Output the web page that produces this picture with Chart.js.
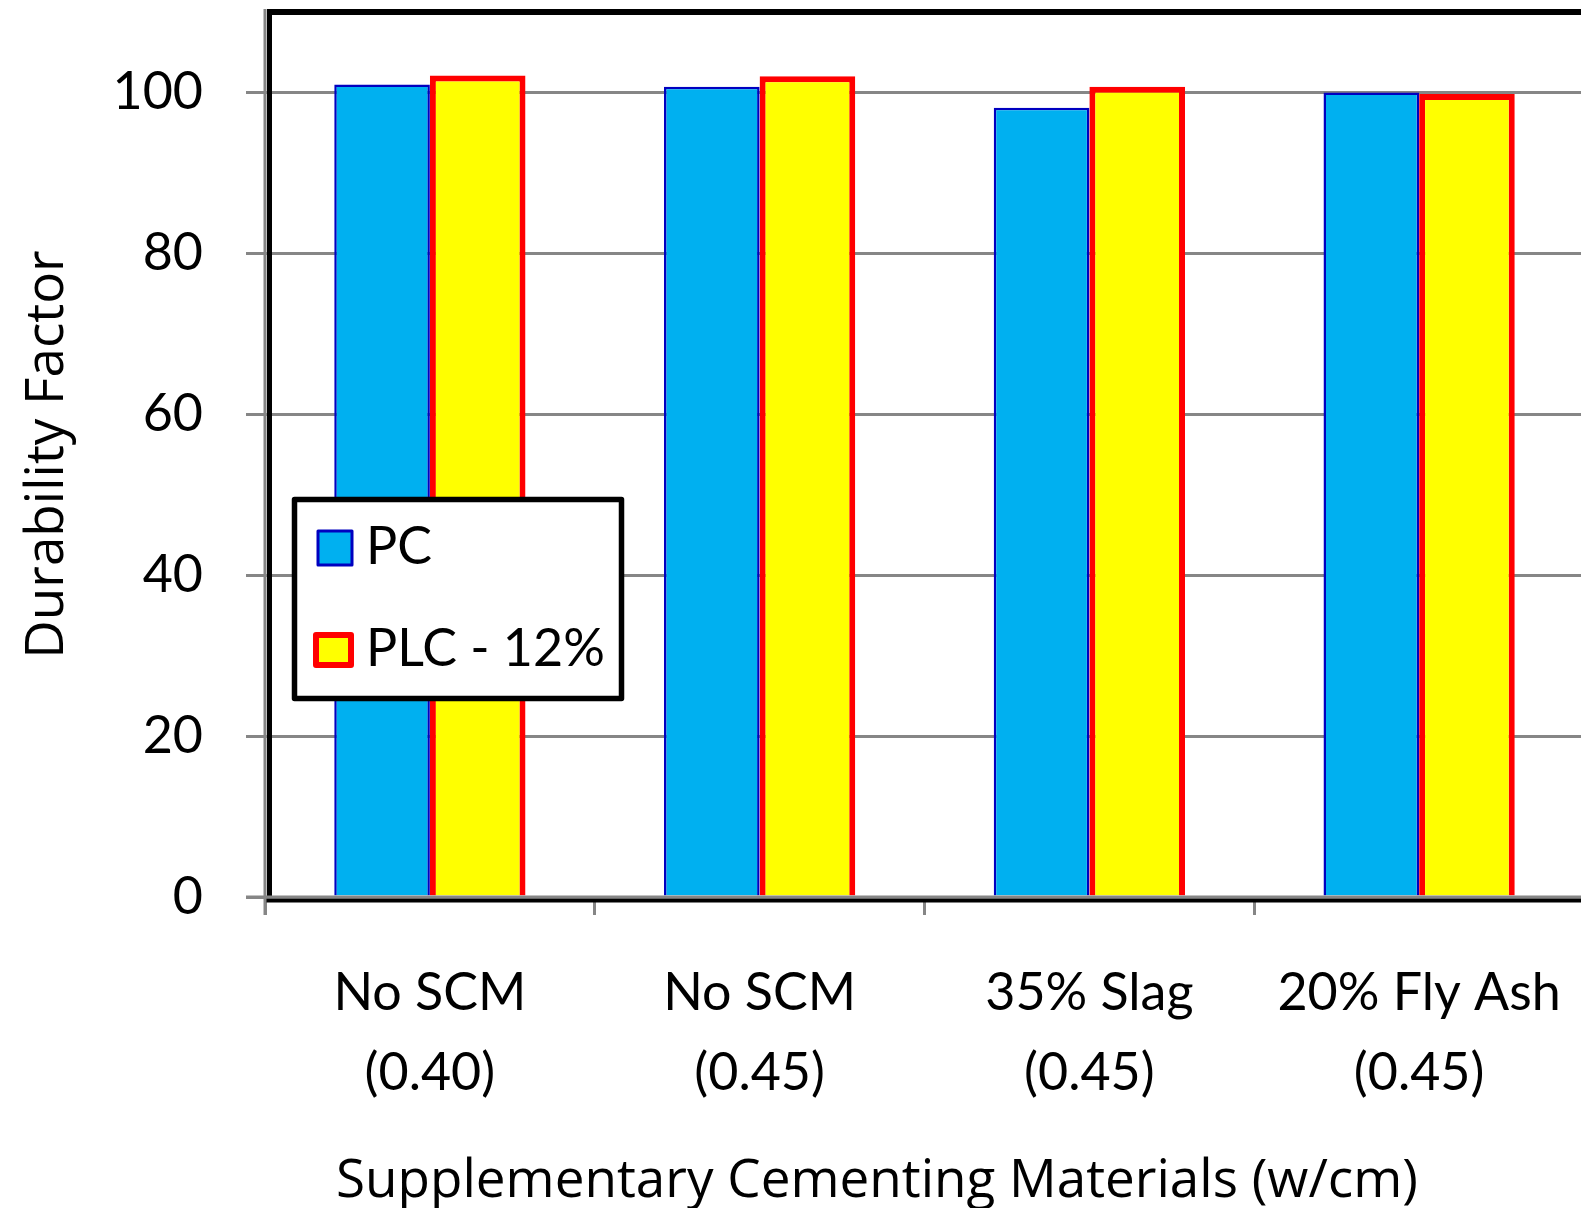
<!DOCTYPE html>
<html lang="en">

<head>
    <meta charset="UTF-8">
    <title>Durability Factor</title>
    <script src="https://cdn.jsdelivr.net/npm/chart.js@4.4.1/dist/chart.umd.min.js"></script>
    <style>
        html, body { margin: 0; padding: 0; overflow: hidden; background: #fff; }
    </style>
</head>

<body>
    <canvas id="bar" width="1590" height="1208"></canvas>

<script>
    // data
    const categories = [['No SCM', '(0.40)'], ['No SCM', '(0.45)'], ['35% Slag', '(0.45)'], ['20% Fly Ash', '(0.45)']];
    const pcValues = [101.0, 100.7, 98.1, 100.0];
    const plcValues = [102.1, 102.0, 100.7, 99.8];
    const yTicks = [0, 20, 40, 60, 80, 100];
    const seriesNames = ['PC', 'PLC - 12%'];
    const xTitle = 'Supplementary Cementing Materials (w/cm)';

    const FONT = 'Lato, "Open Sans", sans-serif';
    const TITLE_FONT = '"Open Sans", Lato, sans-serif';
    const GRAY = '#868686';

    // black plot frame, gray axes on top of the bars, the boxed legend and the x title
    const framePlugin = {
        id: 'frame',
        afterDatasetsDraw(chart) {
            const a = chart.chartArea;
            const c = chart.ctx;
            c.save();
            c.strokeStyle = '#000';
            c.lineWidth = 6;
            c.beginPath();
            c.moveTo(a.left + 2, a.top);
            c.lineTo(a.right, a.top);
            c.stroke();
            c.lineWidth = 5;
            c.beginPath();
            c.moveTo(a.left + 4.5, a.top - 3);
            c.lineTo(a.left + 4.5, a.bottom);
            c.stroke();
            c.lineWidth = 4;
            c.beginPath();
            c.moveTo(a.left, a.bottom + 3.5);
            c.lineTo(a.right, a.bottom + 3.5);
            c.stroke();
            // gray axis lines
            c.strokeStyle = GRAY;
            c.lineWidth = 3;
            c.beginPath();
            c.moveTo(a.left - 19, a.bottom);
            c.lineTo(a.right, a.bottom);
            c.moveTo(a.left, a.top - 3);
            c.lineTo(a.left, a.bottom + 18);
            c.stroke();
            c.restore();
        },
        afterDraw(chart) {
            const c = chart.ctx;
            const ds = chart.data.datasets;
            c.save();
            c.fillStyle = '#fff';
            c.fillRect(294.5, 499.5, 327, 199);
            c.strokeStyle = '#000';
            c.lineWidth = 5.5;
            c.lineJoin = 'round';
            c.strokeRect(294.5, 499.5, 327, 199);
            // swatches
            c.fillStyle = ds[0].backgroundColor;
            c.fillRect(318, 531, 34, 34);
            c.strokeStyle = ds[0].borderColor;
            c.lineWidth = 3;
            c.strokeRect(318, 531, 34, 34);
            c.fillStyle = ds[1].backgroundColor;
            c.fillRect(316, 635, 35, 30);
            c.strokeStyle = ds[1].borderColor;
            c.lineWidth = 6;
            c.strokeRect(316, 635, 35, 30);
            // labels
            c.fillStyle = '#000';
            c.font = '52px ' + FONT;
            c.textBaseline = 'alphabetic';
            c.textAlign = 'left';
            c.fillText(ds[0].label, 366, 564);
            c.fillText(ds[1].label, 366, 666);
            // x axis title (sits left of the plot centre in the original)
            c.font = '53px ' + TITLE_FONT;
            c.textAlign = 'center';
            c.fillText(xTitle, 877, 1197);
            c.restore();
        }
    };

    const ctx = document.getElementById('bar').getContext('2d');
    const myChart = new Chart(ctx, {
        type: 'bar',
        data: {
            labels: categories,
            datasets: [{
                    label: seriesNames[0],
                    data: pcValues,
                    backgroundColor: '#00B0F0',
                    borderColor: '#0000C0',
                    borderWidth: 2.5,
                },
                {
                    label: seriesNames[1],
                    data: plcValues,
                    backgroundColor: '#FFFF00',
                    borderColor: '#FF0000',
                    borderWidth: 6,
                },
            ],
        },
        options: {
            responsive: false,
            animation: false,
            categoryPercentage: 0.58,
            barPercentage: 1,
            layout: {
                padding: { top: 12, right: 6, bottom: 0, left: 0 }
            },
            plugins: {
                legend: { display: false },
                tooltip: { enabled: false },
            },
            scales: {
                x: {
                    afterFit: function(scale) {
                        scale.height = 311;
                        scale.paddingLeft = 0;
                        scale.paddingRight = 0;
                    },
                    grid: {
                        display: true,
                        drawOnChartArea: false,
                        color: GRAY,
                        lineWidth: 3,
                        tickLength: 18,
                        offset: true,
                    },
                    border: { display: false },
                    ticks: {
                        color: '#000',
                        padding: 38,
                        maxRotation: 0,
                        font: { family: FONT, size: 52, lineHeight: 1.54 },
                    },
                },
                y: {
                    min: 0,
                    max: 110,
                    afterFit: function(scale) {
                        scale.width = 265;
                        scale.paddingTop = 0;
                        scale.paddingBottom = 0;
                    },
                    afterBuildTicks: function(scale) {
                        scale.ticks = yTicks.map(v => ({ value: v }));
                    },
                    grid: {
                        color: GRAY,
                        lineWidth: 3,
                        tickLength: 19,
                    },
                    border: { display: false },
                    ticks: {
                        color: '#000',
                        padding: 43,
                        font: { family: FONT, size: 52 },
                    },
                    title: {
                        display: true,
                        text: 'Durability Factor',
                        color: '#000',
                        padding: { top: 16, bottom: 0 },
                        font: { family: TITLE_FONT, size: 53 },
                    },
                },
            },
        },
        plugins: [framePlugin],
    });
</script>

</body>

</html>
